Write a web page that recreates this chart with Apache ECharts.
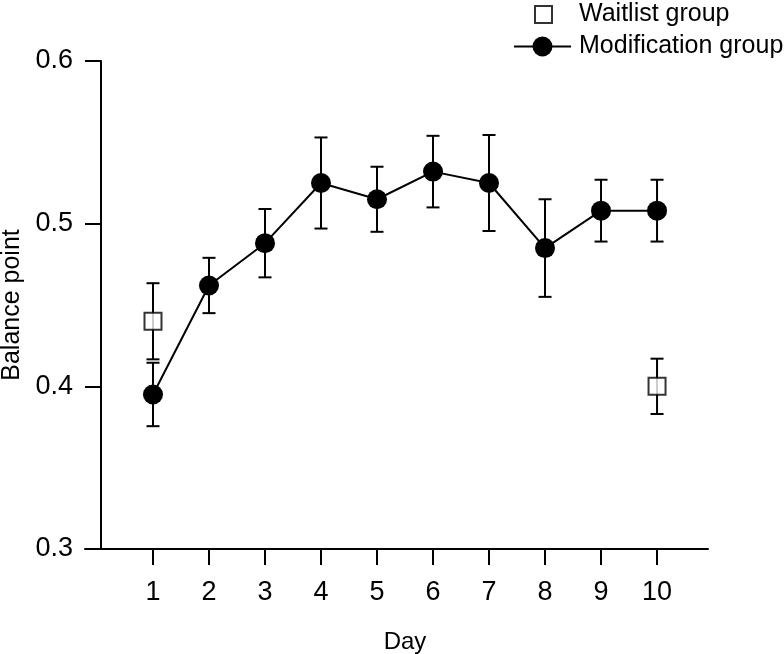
<!DOCTYPE html>
<html>
<head>
<meta charset="utf-8">
<script src="https://cdn.jsdelivr.net/npm/echarts@6/dist/echarts.min.js"></script>
<style>
html,body{margin:0;padding:0;background:#fff;}
#chart{width:784px;height:654px;}
</style>
</head>
<body>
<div id="chart"></div>
<script>
// ---- data ----
const days = [1, 2, 3, 4, 5, 6, 7, 8, 9, 10];
const modMean = [0.395, 0.462, 0.488, 0.525, 0.515, 0.532, 0.525, 0.485, 0.508, 0.508];
const modErr = [0.0195, 0.017, 0.021, 0.028, 0.020, 0.022, 0.0295, 0.030, 0.019, 0.019];
const waitDays = [1, 10];
const waitMean = [0.440, 0.400];
const waitErr = [0.0234, 0.017];
const yTicks = [0.3, 0.4, 0.5, 0.6];

const FONT = "'Liberation Sans', Arial, Helvetica, sans-serif";
const chart = echarts.init(document.getElementById('chart'));

const modPts = days.map((d, i) => [d, modMean[i]]);
const waitPts = waitDays.map((d, i) => [d, waitMean[i]]);
const errData = days.map((d, i) => [d, modMean[i] - modErr[i], modMean[i] + modErr[i]])
  .concat(waitDays.map((d, i) => [d, waitMean[i] - waitErr[i], waitMean[i] + waitErr[i]]));

function renderErr(params, api) {
  const x = api.value(0);
  const lo = api.coord([x, api.value(1)]);
  const hi = api.coord([x, api.value(2)]);
  const hw = 6.5;
  const st = { stroke: '#000', lineWidth: 2 };
  return {
    type: 'group',
    children: [
      { type: 'line', shape: { x1: lo[0], y1: lo[1], x2: hi[0], y2: hi[1] }, style: st },
      { type: 'line', shape: { x1: lo[0] - hw, y1: lo[1], x2: lo[0] + hw, y2: lo[1] }, style: st },
      { type: 'line', shape: { x1: hi[0] - hw, y1: hi[1], x2: hi[0] + hw, y2: hi[1] }, style: st }
    ]
  };
}

const option = {
  backgroundColor: '#fff',
  animation: false,
  textStyle: { fontFamily: FONT },
  legend: [
    {
      data: ['Waitlist group'],
      left: 534, top: 2, padding: 0, orient: 'vertical',
      itemWidth: 17, itemHeight: 17,
      itemStyle: { color: '#fff', borderColor: '#000', borderWidth: 2 },
      textStyle: { fontFamily: FONT, fontSize: 25, color: '#000', padding: [0, 0, 0, 22] }
    },
    {
      data: ['Modification group'],
      left: 513, top: 34, padding: 0, orient: 'vertical',
      itemWidth: 57, itemHeight: 25,
      textStyle: { fontFamily: FONT, fontSize: 25, color: '#000', padding: [0, 0, 0, 3] }
    }
  ],
  grid: { left: 85, right: 76, top: 61, bottom: 105, outerBoundsMode: 'none', containLabel: false },
  xAxis: {
    type: 'value',
    min: -0.214, max: 10.91,
    name: 'Day',
    nameLocation: 'middle',
    nameGap: 81,
    nameTextStyle: { fontFamily: FONT, fontSize: 24, color: '#000', padding: [0, 0, 0, 17] },
    axisLine: { show: true, onZero: false, lineStyle: { color: '#000', width: 2 } },
    axisTick: { show: true, customValues: days, length: 16, lineStyle: { color: '#000', width: 2 } },
    axisLabel: { customValues: days, margin: 30, fontFamily: FONT, fontSize: 27, color: '#000' },
    splitLine: { show: false }
  },
  yAxis: {
    type: 'value',
    min: 0.3, max: 0.6, interval: 0.1,
    offset: -16,
    name: 'Balance point',
    nameLocation: 'middle',
    nameGap: 74,
    nameRotate: 90,
    nameTextStyle: { fontFamily: FONT, fontSize: 25, color: '#000' },
    axisLine: { show: true, lineStyle: { color: '#000', width: 2 } },
    axisTick: { show: true, length: 16, lineStyle: { color: '#000', width: 2 } },
    axisLabel: { margin: 28, fontFamily: FONT, fontSize: 27, color: '#000',
      customValues: yTicks, formatter: v => v.toFixed(1) },
    splitLine: { show: false }
  },
  series: [
    {
      type: 'custom',
      name: 'err',
      renderItem: renderErr,
      data: errData,
      encode: { x: 0, y: [1, 2] },
      z: 1,
      silent: true
    },
    {
      type: 'line',
      name: 'Modification group',
      data: modPts,
      symbol: 'circle',
      symbolSize: 20,
      lineStyle: { color: '#000', width: 2 },
      itemStyle: { color: '#000' },
      z: 3
    },
    {
      type: 'scatter',
      name: 'Waitlist group',
      data: waitPts,
      symbol: 'rect',
      symbolSize: 17,
      itemStyle: { color: '#fff', borderColor: '#000', borderWidth: 2 },
      z: 4
    }
  ]
};
chart.setOption(option);
</script>
</body>
</html>
